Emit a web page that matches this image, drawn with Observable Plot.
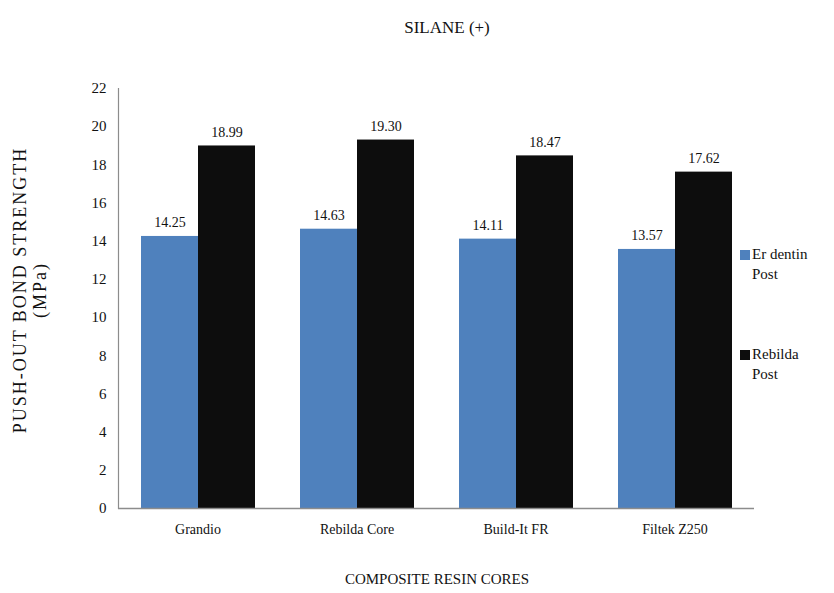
<!DOCTYPE html>
<html>
<head>
<meta charset="utf-8">
<script src="https://cdn.jsdelivr.net/npm/d3@7"></script>
<script src="https://cdn.jsdelivr.net/npm/@observablehq/plot@0.6"></script>
<style>
  html, body { margin: 0; padding: 0; background: #fff; }
  #wrap { position: relative; width: 834px; height: 593px; font-family: "Liberation Serif", "Times New Roman", "DejaVu Serif", serif; color: #111; }
  #wrap svg { position: absolute; left: 0; top: 0; }
  #wrap svg text { font-family: "Liberation Serif", "Times New Roman", "DejaVu Serif", serif; }
  .abs { position: absolute; white-space: nowrap; }
  .sw { display: inline-block; width: 10px; height: 10px; margin-right: 2px; vertical-align: -1px; }
</style>
</head>
<body>
<div id="wrap">
  <div class="abs" style="left:0;width:834px;top:18px;text-align:center;font-size:17px;padding-left:60px;box-sizing:border-box;">SILANE (+)</div>
  <div class="abs" style="left:0;width:834px;top:571px;text-align:center;font-size:15px;padding-left:40px;box-sizing:border-box;">COMPOSITE RESIN CORES</div>
  <div class="abs" style="left:30px;top:290px;transform:translate(-50%,-50%) rotate(-90deg);text-align:center;font-size:18px;line-height:20px;letter-spacing:2px;">PUSH-OUT BOND STRENGTH<br>(MPa)</div>
  <div id="legend"></div>
</div>
<script>
const categories = ["Grandio", "Rebilda Core", "Build-It FR", "Filtek Z250"];
const series = ["Er dentin Post", "Rebilda Post"];
const erDentinPost = [14.25, 14.63, 14.11, 13.57];
const rebildaPost = [18.99, 19.30, 18.47, 17.62];
const yTicks = [0, 2, 4, 6, 8, 10, 12, 14, 16, 18, 20, 22];
const colors = ["#4F81BD", "#0d0d0d"];

const data = [];
categories.forEach((c, i) => {
  data.push({cat: c, series: series[0], value: erDentinPost[i]});
  data.push({cat: c, series: series[1], value: rebildaPost[i]});
});

const chart = Plot.plot({
  width: 834,
  height: 593,
  marginLeft: 118,
  marginRight: 80,
  marginTop: 88,
  marginBottom: 85,
  style: {fontFamily: "'Liberation Serif', 'Times New Roman', serif", fontSize: "14px", color: "#111", background: "transparent"},
  fx: {domain: categories, padding: 0, label: null},
  x: {domain: series, paddingInner: 0, paddingOuter: 0.38, axis: null},
  y: {domain: [0, 22], label: null},
  color: {domain: series, range: colors},
  marks: [
    Plot.barY(data, {fx: "cat", x: "series", y: "value", fill: "series"}),
    Plot.ruleY([0], {stroke: "#8c8c8c", strokeWidth: 1.5}),
    Plot.frame({anchor: "left", facetAnchor: "left", stroke: "#8c8c8c", strokeWidth: 1.2}),
    Plot.text(data, {fx: "cat", x: "series", y: "value", text: d => d.value.toFixed(2), dy: -9, lineAnchor: "bottom", fontSize: 14, fill: "#111"}),
    Plot.axisY({ticks: yTicks, tickSize: 0, tickPadding: 12, label: null, fontSize: 15}),
    Plot.axisFx({anchor: "bottom", tickSize: 0, tickPadding: 16, label: null, fontSize: 14})
  ]
});
document.getElementById("wrap").prepend(chart);

// legend
const lg = document.getElementById("legend");
const legendTops = [244, 344];
series.forEach((s, i) => {
  const parts = s.split(" ");
  const first = parts.slice(0, parts.length - 1).join(" ");
  const last = parts[parts.length - 1];
  const d = document.createElement("div");
  d.className = "abs";
  d.style.left = "740px";
  d.style.top = legendTops[i] + "px";
  d.style.fontSize = "15px";
  d.style.lineHeight = "20px";
  d.innerHTML = `<span class="sw" style="background:${colors[i]}"></span>${first}<br><span style="padding-left:12px">${last}</span>`;
  lg.appendChild(d);
});
</script>
</body>
</html>
